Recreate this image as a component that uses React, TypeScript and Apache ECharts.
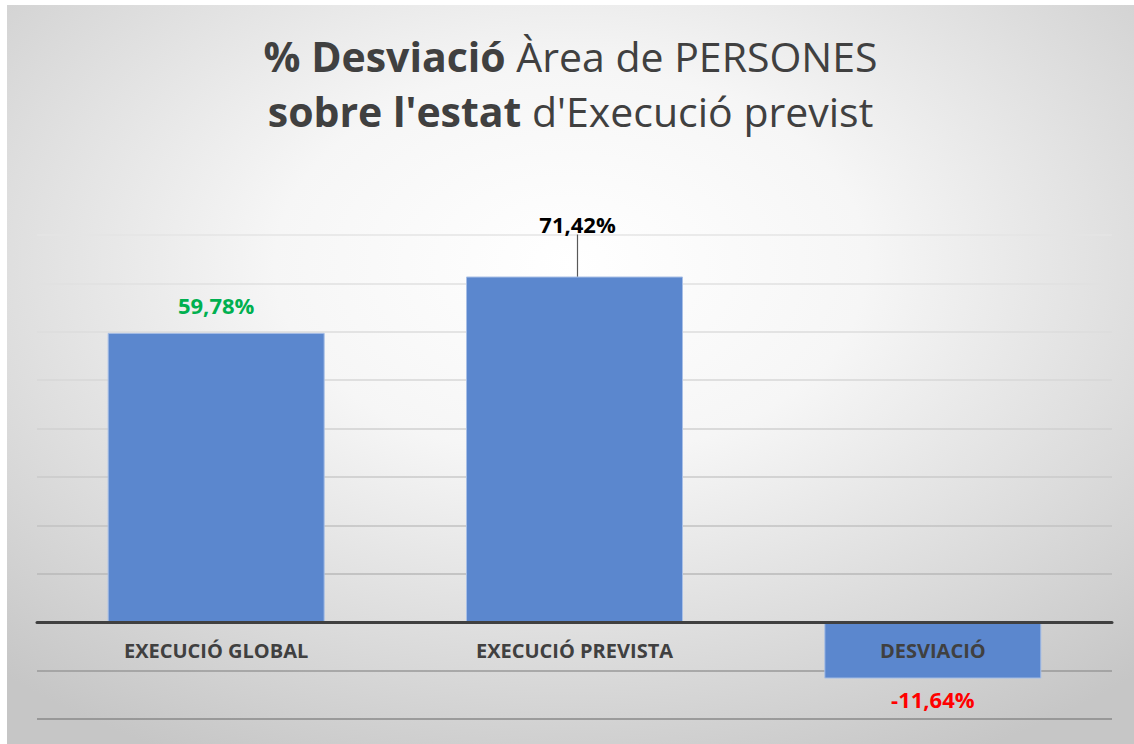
import React, { useEffect, useRef } from "react";
import * as echarts from "echarts";

const categories = ["EXECUCIÓ GLOBAL", "EXECUCIÓ PREVISTA", "DESVIACIÓ"];
const values = [59.78, 71.42, -11.64];
const labelColors = ["#00b050", "#000000", "#ff0000"];
const gridColors = [
  "#888888", "#999999", "#444444", "#b8b8b8", "#c2c2c2", "#cacaca",
  "#d1d1d1", "#d7d7d7", "#dcdcdc", "#e1e1e1", "#e5e5e5",
];

const FONT = '"Open Sans", "Noto Sans", sans-serif';

export default function App() {
  const ref = useRef<HTMLDivElement>(null);
  useEffect(() => {
    if (!ref.current) return;
    const chart = echarts.init(ref.current, null, { renderer: "svg" });
    const fmt = (v: number) => v.toFixed(2).replace(".", ",") + "%";
    chart.setOption({
      animation: false,
      backgroundColor: {
        type: "radial",
        x: 0.5,
        y: 0.35,
        r: 0.75,
        colorStops: [
          { offset: 0, color: "#ffffff" },
          { offset: 0.35, color: "#f6f6f6" },
          { offset: 1, color: "#c6c6c6" },
        ],
      },
      title: {
        left: "center",
        top: 18,
        text:
          "{b|% Desviació}{n| Àrea de PERSONES}\n{b|sobre l'estat}{n| d'Execució previst}",
        textStyle: {
          rich: {
            b: { fontFamily: FONT, fontWeight: "bold", fontSize: 41, color: "#404040", lineHeight: 55 },
            n: { fontFamily: FONT, fontWeight: "normal", fontSize: 41, color: "#404040", lineHeight: 55 },
          },
        },
      },
      grid: { left: 30, right: 22, top: 230, bottom: 25, outerBoundsMode: "none", containLabel: false },
      xAxis: {
        type: "category",
        data: categories,
        z: 5,
        axisLine: { show: true, onZero: true, lineStyle: { color: "#404040", width: 3 } },
        axisTick: { show: false },
        axisLabel: {
          margin: -79,
          fontFamily: FONT,
          fontWeight: "bold",
          fontSize: 20,
          color: "#404040",
        },
      },
      yAxis: {
        type: "value",
        min: -20,
        max: 80,
        interval: 10,
        axisLabel: { show: false },
        axisLine: { show: false },
        axisTick: { show: false },
        splitLine: { lineStyle: { color: gridColors, width: 1.5 } },
      },
      series: [
        {
          type: "bar",
          barWidth: 217,
          data: values.map((v, i) => ({
            value: v,
            label: {
              position: v < 0 ? "bottom" : "top",
              distance: v < 0 ? 9 : 17,
              color: labelColors[i],
            },
            labelLine: { show: i === 1, lineStyle: { color: "#595959", width: 1.2 } },
          })),
          itemStyle: { color: "#5b87ce", borderColor: "#a8bfe6", borderWidth: 1 },
          label: {
            show: true,
            fontFamily: FONT,
            fontWeight: "bold",
            fontSize: 22,
            formatter: (p: any) => fmt(p.value),
          },
          labelLayout: (p: any) => (p.dataIndex === 1 ? { dy: -25, dx: 3 } : {}),
        },
      ],
    });
    return () => chart.dispose();
  }, []);
  return (
    <div style={{ position: "absolute", left: 0, top: 0, width: 1134, height: 744, background: "#ffffff" }}>
      <div ref={ref} style={{ position: "absolute", left: 7, top: 5, width: 1127, height: 739 }} />
    </div>
  );
}
